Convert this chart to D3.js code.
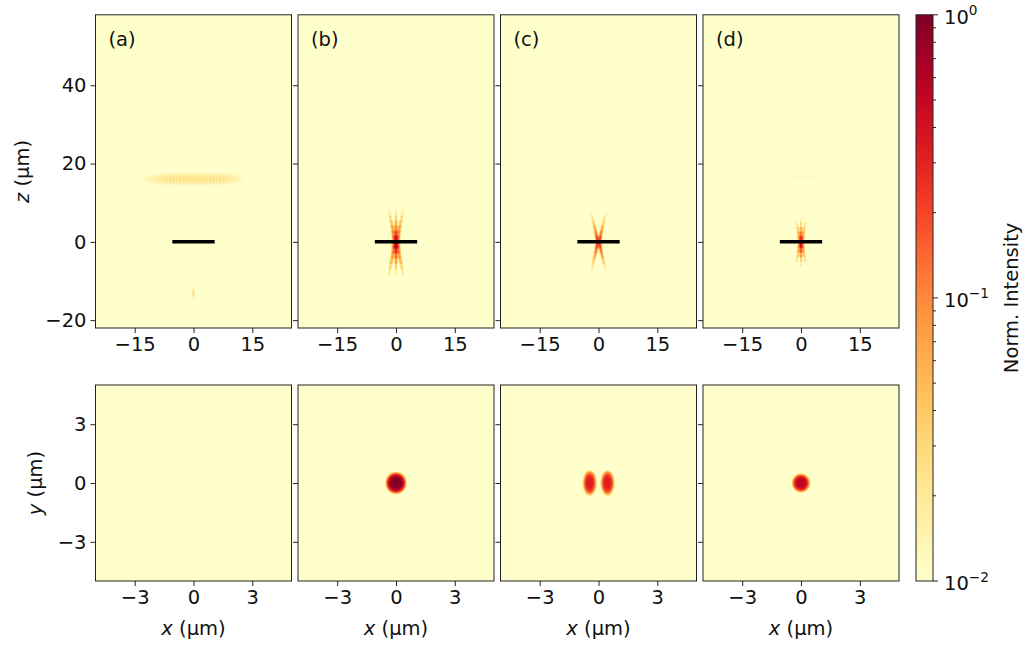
<!DOCTYPE html>
<html>
<head>
<meta charset="utf-8">
<script src="https://cdn.jsdelivr.net/npm/d3@7"></script>
<style>
  body { margin: 0; background: #fff; }
  svg { font-family: "DejaVu Sans", sans-serif; }
</style>
</head>
<body>
<svg id="chart" width="1030" height="651"></svg>
<script>
// ---- data ----
var panelLabels = ["(a)", "(b)", "(c)", "(d)"];
var xzDomainX = [-25, 25];
var xzDomainZ = [-22, 58];
var xyDomain = [-5, 5];
var xzTicksX = [-15, 0, 15];
var xzTicksZ = [-20, 0, 20, 40];
var xyTicks = [-3, 0, 3];
var cbarDomain = [0.01, 1];
var cbarMajor = [0.01, 0.1, 1];
var cbarExponents = ["\u22122", "\u22121", "0"];
var rodHalfLength = [5.4, 5.4, 5.4, 5.4];

// focal streaks in the x-z maps (µm, normalised intensity)
var xzBeams = [
  { panel: 1, gap: 0, slope: 0, width: 0.33, peakUp: 0.6, peakDown: 0.95, decayUp: 5.6, decayDown: 5, top: 9, bottom: 9.1, period: 1.3, depth: 0.4 },
  { panel: 1, gap: 0.4, slope: 0.22, width: 0.45, peakUp: 0.28, peakDown: 0.32, decayUp: 7, decayDown: 7, top: 8.8, bottom: 8.8, period: 1.3, depth: 0.35 },
  { panel: 2, gap: 0.3, slope: 0.25, width: 0.32, peakUp: 0.42, peakDown: 0.42, decayUp: 5.4, decayDown: 5.4, top: 7.4, bottom: 7.2, period: 1.3, depth: 0.2 },
  { panel: 3, gap: 0, slope: 0, width: 0.3, peakUp: 0.45, peakDown: 0.7, decayUp: 4.4, decayDown: 4, top: 5.8, bottom: 5.9, period: 1.2, depth: 0.4 },
  { panel: 3, gap: 0.35, slope: 0.22, width: 0.38, peakUp: 0.18, peakDown: 0.2, decayUp: 5.5, decayDown: 5.5, top: 5.6, bottom: 5.6, period: 1.2, depth: 0.35 }
];
// striped bands above the rod
var xzBands = [
  { panel: 0, z: 16.1, sigmaZ: 1.9, halfX: 13.8, peak: 0.027, period: 0.85, depth: 0.35 },
  { panel: 3, z: 16.4, sigmaZ: 0.7, halfX: 5.4, peak: 0.0155, period: 0.85, depth: 0.4 }
];
// small spots (x-z maps use cy = z)
var xzSpots = [
  { panel: 0, cx: 0, cy: -13, wx: 0.25, wy: 1.5, peak: 0.035, power: 2 },
  { panel: 3, cx: 0, cy: -12.8, wx: 0.18, wy: 1.0, peak: 0.022, power: 2 }
];
var xySpots = [
  { panel: 1, cx: 0, cy: 0, wx: 0.39, wy: 0.41, peak: 1.0, power: 4 },
  { panel: 2, cx: -0.45, cy: 0, wx: 0.27, wy: 0.5, peak: 0.33, power: 4 },
  { panel: 2, cx: 0.46, cy: 0, wx: 0.27, wy: 0.5, peak: 0.33, power: 4 },
  { panel: 3, cx: 0, cy: 0, wx: 0.35, wy: 0.36, peak: 0.55, power: 4 }
];

// ---- layout ----
var panelLeft = 95.5, panelStep = 202.5, panelW = 196;
var topY = 14.8, topH = 313.2;
var botY = 385, botH = 196;
var cbar = { x: 916, w: 17 };
var fontSize = 19.5;

var svg = d3.select("#chart");
var fmt = d3.format("d");

// colour lookup table, indexed by position on the log scale
var lut = d3.range(512).map(function(i) { return d3.rgb(d3.interpolateYlOrRd(i / 511)); });
var logPos = d3.scaleLog().domain(cbarDomain).range([0, 511]).clamp(true);

function beamValue(b, x, z) {
  var up = z >= 0;
  var az = Math.abs(z);
  var env = (up ? b.peakUp : b.peakDown) * Math.pow(10, -az / (up ? b.decayUp : b.decayDown));
  var end = up ? b.top : b.bottom;
  if (az > end) env *= Math.exp(-Math.pow((az - end) / 0.5, 2));
  var xc = Math.sqrt(b.gap * b.gap + b.slope * b.slope * z * z);
  var g = xc === 0
    ? Math.exp(-Math.pow(x / b.width, 2))
    : Math.exp(-Math.pow((x - xc) / b.width, 2)) + Math.exp(-Math.pow((x + xc) / b.width, 2));
  var c = Math.cos(Math.PI * z / b.period);
  return env * g * (1 - b.depth + b.depth * c * c);
}

function bandValue(b, x, z) {
  var c = Math.cos(Math.PI * x / b.period);
  return b.peak * Math.exp(-Math.pow((z - b.z) / b.sigmaZ, 2)) *
    Math.exp(-Math.pow(x / b.halfX, 4)) * (1 - b.depth + b.depth * c * c);
}

function spotValue(s, x, y) {
  var r2 = Math.pow((x - s.cx) / s.wx, 2) + Math.pow((y - s.cy) / s.wy, 2);
  return s.peak * Math.exp(-Math.pow(r2, s.power / 2));
}

function heatImage(w, h, xs, ys, fn) {
  var canvas = document.createElement("canvas");
  canvas.width = w;
  canvas.height = h;
  var ctx = canvas.getContext("2d");
  var img = ctx.createImageData(w, h);
  for (var j = 0; j < h; j++) {
    var yv = ys.invert(j + 0.5);
    for (var i = 0; i < w; i++) {
      var v = fn(xs.invert(i + 0.5), yv);
      var c = lut[Math.round(logPos(Math.max(v, cbarDomain[0])))];
      var k = (j * w + i) * 4;
      img.data[k] = c.r; img.data[k + 1] = c.g; img.data[k + 2] = c.b; img.data[k + 3] = 255;
    }
  }
  ctx.putImageData(img, 0, 0);
  return canvas.toDataURL();
}

function styleAxis(g) {
  g.select(".domain").remove();
  g.attr("font-size", fontSize).attr("font-family", "DejaVu Sans, sans-serif");
  g.selectAll(".tick line").attr("stroke", "#222");
  g.selectAll(".tick text").attr("fill", "#111");
}

function axisLabel(sel, letter) {
  sel.append("tspan").style("font-style", "italic").text(letter);
  sel.append("tspan").text(" (\u00b5m)");
}

panelLabels.forEach(function(label, p) {
  var left = panelLeft + p * panelStep;

  // ---- top row: x-z ----
  var x = d3.scaleLinear().domain(xzDomainX).range([0, panelW]);
  var z = d3.scaleLinear().domain(xzDomainZ).range([topH, 0]);
  var beams = xzBeams.filter(function(b) { return b.panel === p; });
  var bands = xzBands.filter(function(b) { return b.panel === p; });
  var spots = xzSpots.filter(function(s) { return s.panel === p; });
  var gTop = svg.append("g").attr("transform", "translate(" + left + "," + topY + ")");
  gTop.append("image")
    .attr("width", panelW).attr("height", topH)
    .attr("preserveAspectRatio", "none")
    .attr("href", heatImage(panelW, Math.round(topH), x, z, function(xv, zv) {
      var v = 0;
      beams.forEach(function(b) { v += beamValue(b, xv, zv); });
      bands.forEach(function(b) { v += bandValue(b, xv, zv); });
      spots.forEach(function(s) { v += spotValue(s, xv, zv); });
      return v;
    }));
  gTop.append("line")
    .attr("x1", x(-rodHalfLength[p])).attr("x2", x(rodHalfLength[p]))
    .attr("y1", z(0)).attr("y2", z(0))
    .attr("stroke", "#000").attr("stroke-width", 3.5);
  gTop.append("rect")
    .attr("width", panelW).attr("height", topH)
    .attr("fill", "none").attr("stroke", "#222").attr("stroke-width", 1);
  gTop.append("g").attr("transform", "translate(0," + topH + ")")
    .call(d3.axisBottom(x).tickValues(xzTicksX).tickFormat(fmt).tickSize(5).tickPadding(4))
    .call(styleAxis);
  gTop.append("g")
    .call(d3.axisLeft(z).tickValues(xzTicksZ).tickFormat(p === 0 ? fmt : function() { return ""; }).tickSize(5).tickPadding(4))
    .call(styleAxis);
  gTop.append("text")
    .attr("x", 13).attr("y", 31)
    .attr("font-size", fontSize).attr("fill", "#111")
    .text(label);

  // ---- bottom row: x-y ----
  var xb = d3.scaleLinear().domain(xyDomain).range([0, panelW]);
  var yb = d3.scaleLinear().domain(xyDomain).range([botH, 0]);
  var xyP = xySpots.filter(function(s) { return s.panel === p; });
  var gBot = svg.append("g").attr("transform", "translate(" + left + "," + botY + ")");
  gBot.append("image")
    .attr("width", panelW).attr("height", botH)
    .attr("preserveAspectRatio", "none")
    .attr("href", heatImage(panelW, botH, xb, yb, function(xv, yv) {
      var v = 0;
      xyP.forEach(function(s) { v += spotValue(s, xv, yv); });
      return v;
    }));
  gBot.append("rect")
    .attr("width", panelW).attr("height", botH)
    .attr("fill", "none").attr("stroke", "#222").attr("stroke-width", 1);
  gBot.append("g").attr("transform", "translate(0," + botH + ")")
    .call(d3.axisBottom(xb).tickValues(xyTicks).tickFormat(fmt).tickSize(5).tickPadding(4))
    .call(styleAxis);
  gBot.append("g")
    .call(d3.axisLeft(yb).tickValues(xyTicks).tickFormat(p === 0 ? fmt : function() { return ""; }).tickSize(5).tickPadding(4))
    .call(styleAxis);
  gBot.append("text")
    .attr("x", panelW / 2).attr("y", botH + 54)
    .attr("text-anchor", "middle")
    .attr("font-size", fontSize).attr("fill", "#111")
    .call(axisLabel, "x");
});

// y labels
svg.append("text")
  .attr("transform", "translate(22," + (topY + topH / 2) + ") rotate(-90)")
  .attr("text-anchor", "middle").attr("dy", "0.35em")
  .attr("font-size", fontSize).attr("fill", "#111")
  .call(axisLabel, "z");
svg.append("text")
  .attr("transform", "translate(35," + (botY + botH / 2) + ") rotate(-90)")
  .attr("text-anchor", "middle").attr("dy", "0.35em")
  .attr("font-size", fontSize).attr("fill", "#111")
  .call(axisLabel, "y");

// ---- colour bar ----
var cbY = d3.scaleLog().domain(cbarDomain).range([botY + botH, topY]);
var grad = svg.append("defs").append("linearGradient")
  .attr("id", "cbgrad").attr("x1", 0).attr("y1", 1).attr("x2", 0).attr("y2", 0);
d3.range(0, 1.0001, 0.025).forEach(function(t) {
  grad.append("stop").attr("offset", t).attr("stop-color", d3.interpolateYlOrRd(t));
});
var gCb = svg.append("g").attr("transform", "translate(" + cbar.x + ",0)");
gCb.append("rect")
  .attr("y", cbY(1)).attr("width", cbar.w).attr("height", cbY(0.01) - cbY(1))
  .attr("fill", "url(#cbgrad)").attr("stroke", "#222").attr("stroke-width", 1);
var minor = [];
[0.01, 0.1].forEach(function(d) { d3.range(2, 10).forEach(function(k) { minor.push(d * k); }); });
gCb.selectAll(".minor").data(minor).join("line")
  .attr("x1", cbar.w).attr("x2", cbar.w + 3)
  .attr("y1", function(d) { return cbY(d); }).attr("y2", function(d) { return cbY(d); })
  .attr("stroke", "#222");
gCb.selectAll(".major").data(cbarMajor).join("line")
  .attr("x1", cbar.w).attr("x2", cbar.w + 5)
  .attr("y1", function(d) { return cbY(d); }).attr("y2", function(d) { return cbY(d); })
  .attr("stroke", "#222");
gCb.selectAll(".cblabel").data(cbarMajor).join("text")
  .attr("x", cbar.w + 11).attr("y", function(d) { return cbY(d); })
  .attr("dy", "0.45em")
  .attr("font-size", fontSize).attr("fill", "#111")
  .each(function(d, i) {
    var t = d3.select(this);
    t.append("tspan").text("10");
    t.append("tspan").attr("dy", "-0.6em").attr("font-size", fontSize * 0.7).text(cbarExponents[i]);
  });
svg.append("text")
  .attr("transform", "translate(1011," + ((cbY(1) + cbY(0.01)) / 2) + ") rotate(-90)")
  .attr("text-anchor", "middle").attr("dy", "0.35em")
  .attr("font-size", fontSize).attr("fill", "#111")
  .text("Norm. Intensity");
</script>
</body>
</html>
